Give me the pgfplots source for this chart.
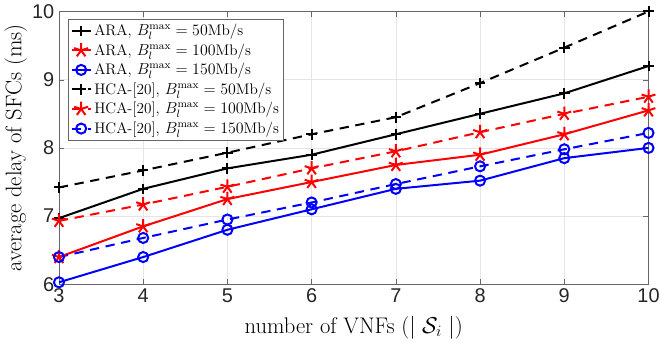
\documentclass[border=0pt]{standalone}
\usepackage{pgfplots}
\pgfplotsset{compat=1.18}
\usepackage{fontspec}
\newfontfamily\ticksf{Liberation Sans}
\begin{document}
\begin{tikzpicture}
\begin{axis}[
    scale only axis,
    width=444pt, height=205.5pt,
    xmin=3, xmax=10, ymin=6, ymax=10,
    xtick={3,4,5,6,7,8,9,10},
    ytick={6,7,8,9,10},
    grid=major,
    major grid style={gray!20, line width=0.5pt},
    axis line style={gray!80!black, line width=0.6pt},
    tick style={gray!80!black},
    tick align=inside,
    major tick length=4pt,
    /pgf/number format/assume math mode=true,
    tick label style={font=\ticksf\fontsize{15}{17}\selectfont, text=black!85},
    label style={font=\fontsize{17}{20}\selectfont},
    xlabel={number of VNFs ($|\;\mathcal{S}_i\;|$)},
    ylabel={average delay of SFCs (ms)},
    xlabel style={yshift=-3pt},
    ylabel style={yshift=-3pt},
    legend style={
        at={(0.016,0.972)}, anchor=north west,
        font=\fontsize{11.5}{13}\selectfont,
        draw=gray!80!black, line width=0.5pt,
        fill=white, row sep=0.6pt,
        inner sep=1.5pt
    },
    legend cell align=left,
    legend image post style={line width=1.5pt},
    legend image code/.code={
        \draw[#1] (0cm,0cm) -- (0.5cm,0cm);
        \draw[#1, solid] plot coordinates {(0.25cm,0cm)};
    },
    every axis plot/.append style={line width=1.5pt},
]
% ARA, 50Mb/s
\addplot[black, solid, mark=+, mark size=4pt] coordinates {
    (3,6.97) (4,7.4) (5,7.7) (6,7.9) (7,8.2) (8,8.5) (9,8.8) (10,9.2)
};
\addlegendentry{ARA, $B_l^{\max}=50$Mb/s}
% ARA, 100Mb/s
\addplot[red, solid, mark=star, mark size=5.5pt, mark options={fill=red}] coordinates {
    (3,6.4) (4,6.85) (5,7.25) (6,7.5) (7,7.75) (8,7.9) (9,8.2) (10,8.55)
};
\addlegendentry{ARA, $B_l^{\max}=100$Mb/s}
% ARA, 150Mb/s
\addplot[blue, solid, mark=o, mark size=3.8pt] coordinates {
    (3,6.03) (4,6.4) (5,6.8) (6,7.1) (7,7.4) (8,7.52) (9,7.85) (10,8.0)
};
\addlegendentry{ARA, $B_l^{\max}=150$Mb/s}
% HCA, 50Mb/s
\addplot[black, dashed, dash pattern=on 7pt off 5pt, mark=+, mark size=4pt, mark options={solid}] coordinates {
    (3,7.42) (4,7.67) (5,7.93) (6,8.2) (7,8.45) (8,8.95) (9,9.47) (10,10.0)
};
\addlegendentry{HCA-[20], $B_l^{\max}=50$Mb/s}
% HCA, 100Mb/s
\addplot[red, dashed, dash pattern=on 7pt off 5pt, mark=star, mark size=5.5pt, mark options={solid, fill=white}] coordinates {
    (3,6.93) (4,7.17) (5,7.43) (6,7.7) (7,7.95) (8,8.23) (9,8.5) (10,8.75)
};
\addlegendentry{HCA-[20], $B_l^{\max}=100$Mb/s}
% HCA, 150Mb/s
\addplot[blue, dashed, dash pattern=on 7pt off 5pt, mark=o, mark size=3.8pt, mark options={solid}] coordinates {
    (3,6.4) (4,6.68) (5,6.95) (6,7.2) (7,7.47) (8,7.73) (9,7.98) (10,8.22)
};
\addlegendentry{HCA-[20], $B_l^{\max}=150$Mb/s}
\end{axis}
\end{tikzpicture}
\end{document}
